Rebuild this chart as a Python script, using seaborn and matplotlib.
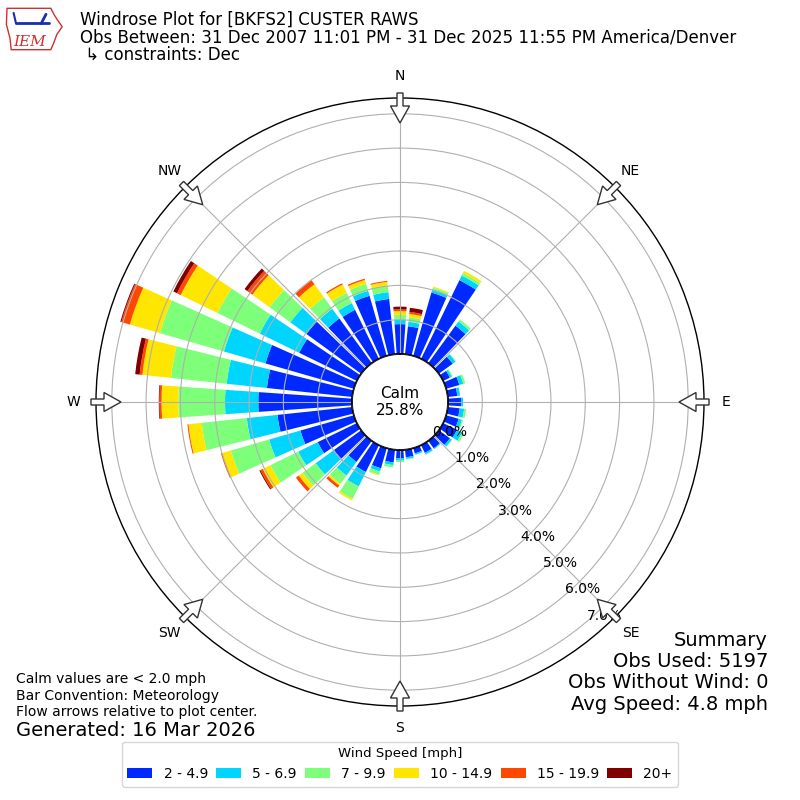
import matplotlib.pyplot as plt
import numpy as np
import seaborn as sns
from matplotlib.patches import Circle, FancyArrow, Polygon

# direction bins (degrees, meteorological) and percent of obs per speed bin
directions = np.arange(0, 360, 10)
speed_labels = ["2 - 4.9", "5 - 6.9", "7 - 9.9", "10 - 14.9", "15 - 19.9", "20+"]

pct_2_5 = [0.87, 0.82, 1.92, 2.55, 1.35, 0.50, 0.22, 0.40, 0.28, 0.38, 0.35, 0.38,
           0.45, 0.40, 0.27, 0.25, 0.16, 0.22, 0.24, 0.37, 0.61, 0.87, 0.76, 0.98,
           1.27, 1.62, 2.19, 2.73, 2.50, 2.68, 1.87, 1.97, 1.61, 1.59, 1.82, 1.62]
pct_5_7 = [0.13, 0.13, 0.10, 0.15, 0.15, 0.10, 0.06, 0.12, 0.08, 0.06, 0.13, 0.10,
           0.17, 0.07, 0.03, 0.05, 0.04, 0.05, 0.07, 0.08, 0.10, 0.47, 0.49, 0.66,
           0.63, 0.95, 0.90, 0.97, 1.18, 1.26, 1.28, 0.58, 0.35, 0.22, 0.15, 0.20]
pct_7_10 = [0.14, 0.13, 0.05, 0.08, 0.07, 0.02, 0.03, 0.06, 0.00, 0.00, 0.06, 0.03,
            0.06, 0.01, 0.00, 0.01, 0.00, 0.02, 0.04, 0.07, 0.10, 0.40, 0.30, 0.47,
            0.90, 1.16, 1.32, 1.36, 1.63, 1.94, 1.37, 0.75, 0.41, 0.33, 0.21, 0.19]
pct_10_15 = [0.11, 0.10, 0.03, 0.07, 0.00, 0.00, 0.00, 0.00, 0.00, 0.00, 0.00, 0.00,
             0.00, 0.00, 0.00, 0.00, 0.00, 0.00, 0.00, 0.00, 0.02, 0.05, 0.06, 0.14,
             0.25, 0.26, 0.39, 0.49, 0.84, 0.91, 1.19, 0.62, 0.47, 0.27, 0.12, 0.11]
pct_15_20 = [0.05, 0.06, 0.00, 0.00, 0.00, 0.00, 0.00, 0.00, 0.00, 0.00, 0.00, 0.00,
             0.00, 0.00, 0.00, 0.00, 0.00, 0.00, 0.00, 0.00, 0.00, 0.00, 0.08, 0.10,
             0.08, 0.04, 0.03, 0.06, 0.08, 0.26, 0.12, 0.18, 0.15, 0.04, 0.04, 0.03]
pct_20_up = [0.08, 0.12, 0.00, 0.00, 0.00, 0.00, 0.00, 0.00, 0.00, 0.00, 0.00, 0.00,
             0.00, 0.00, 0.00, 0.00, 0.00, 0.00, 0.00, 0.00, 0.00, 0.00, 0.00, 0.00,
             0.03, 0.00, 0.00, 0.02, 0.13, 0.03, 0.12, 0.10, 0.00, 0.00, 0.00, 0.00]
speed_bins = [pct_2_5, pct_5_7, pct_7_10, pct_10_15, pct_15_20, pct_20_up]

calm_pct = 25.8
rtick_values = [0, 1, 2, 3, 4, 5, 6, 7]
compass_deg = [0, 45, 90, 135, 180, 225, 270, 315]
compass_names = ["N", "NE", "E", "SE", "S", "SW", "W", "NW"]

sns.set_theme(
    style="white",
    rc={
        "axes.axisbelow": "line",
        "axes.edgecolor": "black",
        "grid.color": "#b0b0b0",
        "grid.linewidth": 0.8,
        "xtick.labelsize": 10,
        "text.color": "black",
        "xtick.color": "black",
        "ytick.color": "black",
        "axes.labelcolor": "black",
    },
)
plt.rcParams["font.family"] = ["DejaVu Sans"]

palette = sns.color_palette(plt.get_cmap("jet")(np.linspace(0, 1, 7)[1:]))

fig = plt.figure(figsize=(8, 8), dpi=100)
ax = fig.add_axes([0.12, 0.1175, 0.76, 0.76], projection="polar")
ax.set_theta_zero_location("N")
ax.set_theta_direction(-1)

theta = np.deg2rad(directions)
bottom = np.zeros(len(directions))
for vals, color, lbl in zip(speed_bins, palette, speed_labels):
    vals = np.asarray(vals)
    ax.bar(theta, vals, width=np.deg2rad(8), bottom=bottom, color=color,
           linewidth=0, label=lbl)
    bottom += vals

rmax = 7.46
ax.set_ylim(0, rmax)
ax.set_rorigin(-rmax * 48 / 256)
ax.set_yticks(rtick_values)
ax.set_yticklabels([])
ax.set_xticks(np.deg2rad(compass_deg), compass_names)
ax.tick_params(axis="x", pad=3)
ax.grid(True)
ax.spines["polar"].set_linewidth(1.0)

# calm circle in the middle
ax.add_patch(Circle((0.5, 0.5), 48 / 608, transform=ax.transAxes,
                    facecolor="white", edgecolor="black", lw=1, zorder=5))
ax.text(0.5, 0.5, f"Calm\n{calm_pct:.1f}%", transform=ax.transAxes,
        ha="center", va="center", fontsize=11, zorder=6)

for v in rtick_values:
    ax.annotate(f"{v:.1f}%", xy=(np.deg2rad(140), v), xytext=(1, 0),
                textcoords="offset points", ha="left", va="bottom",
                fontsize=10, zorder=7)

# flow arrows at the rim
cx, cy = 0.5, 1 - 402 / 800
for d in compass_deg:
    s, c = np.sin(np.deg2rad(d)), np.cos(np.deg2rad(d))
    r0 = 309 / 800
    ln = 30 / 800
    fig.add_artist(FancyArrow(cx + r0 * s, cy + r0 * c, -ln * s, -ln * c,
                              width=6 / 800, head_width=19 / 800,
                              head_length=17 / 800, length_includes_head=True,
                              transform=fig.transFigure, facecolor="white",
                              edgecolor="#333333", lw=1, zorder=10))

fig.legend(loc="lower center", bbox_to_anchor=(0.5, 0.008), ncol=6,
           title="Wind Speed [mph]", fontsize=10, title_fontsize=9.5,
           handlelength=1.8, handletextpad=0.8, columnspacing=0.6)

# header
fig.text(0.1, 1 - 20 / 800, "Windrose Plot for [BKFS2] CUSTER RAWS",
         va="center", fontsize=12)
fig.text(0.1, 1 - 38 / 800,
         "Obs Between: 31 Dec 2007 11:01 PM - 31 Dec 2025 11:55 PM America/Denver",
         va="center", fontsize=12)
fig.text(0.1, 1 - 55 / 800, " \u21b3 constraints: Dec", va="center", fontsize=12)

logo = fig.add_axes([0.005, 1 - 52 / 800, 0.075, 46 / 800])
logo.set_xlim(0, 1)
logo.set_ylim(0, 1)
logo.axis("off")
logo.add_patch(Polygon([(0.05, 0.95), (0.78, 0.95), (0.84, 0.8), (0.9, 0.68),
                        (0.97, 0.55), (0.88, 0.38), (0.83, 0.2), (0.78, 0.05),
                        (0.12, 0.05), (0.1, 0.3), (0.04, 0.6)],
                       closed=True, fill=False, edgecolor="#d03030", lw=1))
logo.plot([0.2, 0.75], [0.62, 0.62], color="#1a2fb0", lw=2)
logo.plot([0.2, 0.16], [0.62, 0.85], color="#1a2fb0", lw=1.5)
logo.plot([0.62, 0.7], [0.62, 0.82], color="#1a2fb0", lw=2)
logo.text(0.42, 0.22, "IEM", color="#d03030", fontsize=11, style="italic",
          family="DejaVu Serif", ha="center", va="center")

# footer notes
fig.text(0.02, 1 - 679 / 800, "Calm values are < 2.0 mph", va="center", fontsize=10)
fig.text(0.02, 1 - 696 / 800, "Bar Convention: Meteorology", va="center", fontsize=10)
fig.text(0.02, 1 - 712 / 800, "Flow arrows relative to plot center.", va="center",
         fontsize=10)
fig.text(0.02, 1 - 730 / 800, "Generated: 16 Mar 2026", va="center", fontsize=14)

summary = ["Summary", "Obs Used: 5197", "Obs Without Wind: 0", "Avg Speed: 4.8 mph"]
for i, line in enumerate(summary):
    fig.text(0.96, 1 - (640 + 21.5 * i) / 800, line, ha="right", va="center",
             fontsize=14)

fig.savefig("out.png", dpi=100)
